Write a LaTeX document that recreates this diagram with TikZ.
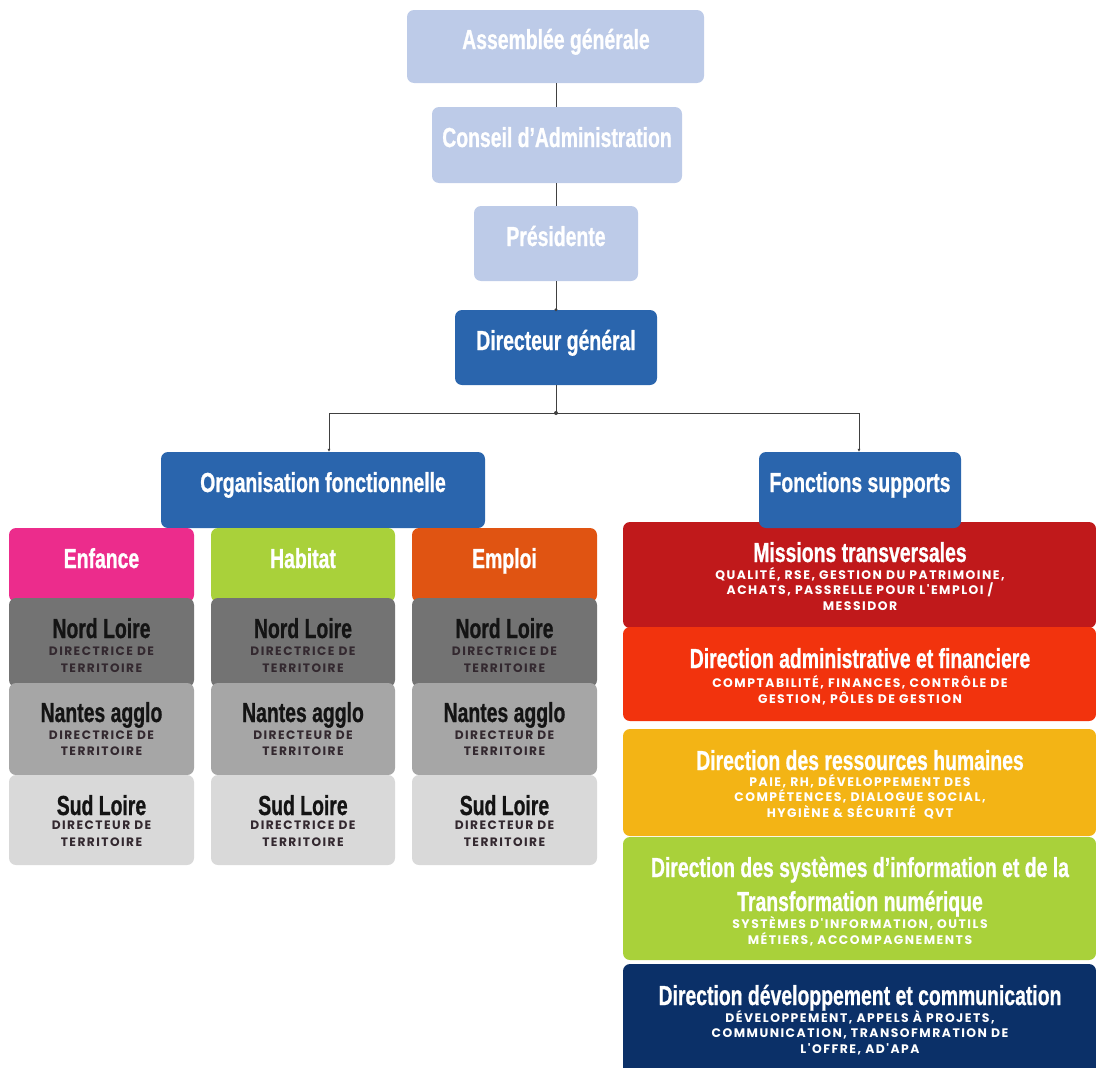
\documentclass[tikz,border=0pt]{standalone}
\usepackage{fontspec}
\setmainfont{Liberation Sans}
\newfontfamily\headf[FakeStretch=0.705, FakeBold=0.8]{Liberation Sans}
\newfontfamily\subf[LetterSpace=12]{Poppins}
\usetikzlibrary{arrows.meta}

\definecolor{paleblue}{HTML}{BDCBE8}
\definecolor{midblue}{HTML}{2A65AD}
\definecolor{pink}{HTML}{EC2C8C}
\definecolor{lime}{HTML}{A9D13A}
\definecolor{burnt}{HTML}{E05412}
\definecolor{grayA}{HTML}{737373}
\definecolor{grayB}{HTML}{A6A6A6}
\definecolor{grayC}{HTML}{D9D9D9}
\definecolor{crimson}{HTML}{C0191B}
\definecolor{redorange}{HTML}{F2330D}
\definecolor{amber}{HTML}{F3B415}
\definecolor{navy}{HTML}{0B3068}
\definecolor{linegray}{HTML}{404040}
\definecolor{darktext}{HTML}{141414}
\definecolor{subdark}{HTML}{33282F}

\tikzset{
  box/.style={rounded corners=7pt, inner sep=0pt, draw=none},
  head/.style={anchor=base, inner sep=0pt, text=white,
    font=\headf\bfseries\fontsize{27.5}{34}\selectfont},
  darkhead/.style={head, text=darktext},
  % multi-line sub-captions: the base anchor sits on the last line
  sub/.style={anchor=base, inner sep=0pt, align=center, text=white,
    font=\subf\bfseries\fontsize{12.4}{15.5}\selectfont},
  darksub/.style={sub, text=subdark, font=\subf\bfseries\fontsize{12.2}{16.5}\selectfont},
  conn/.style={draw=linegray, line width=0.9pt},
  tip/.style={-{Latex[length=3pt,width=3pt]}},
}

\begin{document}
\begin{tikzpicture}[x={(1pt,0)}, y={(0,-1pt)}]
\useasboundingbox (0,0) rectangle (1096,1068);

% governance chain
\node[box, fill=paleblue, minimum width=297pt, minimum height=73pt] (ag) at (555.5,46.5) {};
\node[box, fill=paleblue, minimum width=250pt, minimum height=76pt] (ca) at (557,145) {};
\node[box, fill=paleblue, minimum width=164pt, minimum height=75pt] (pr) at (556,243.5) {};
\node[box, fill=midblue, minimum width=202pt, minimum height=75pt] (dg) at (556,347.5) {};
\node[head] (agt) at (556,49) {Assemblée générale};
\node[head] (cat) at (557,147) {Conseil d’Administration};
\node[head] (prt) at (556,246) {Présidente};
\node[head] (dgt) at (556,350) {Directeur général};

% right-hand support departments
\node[box, fill=crimson, minimum width=473pt, minimum height=106pt] (mt) at (859.5,575) {};
\node[box, fill=redorange, minimum width=473pt, minimum height=94pt] (daf) at (859.5,674) {};
\node[box, fill=amber, minimum width=473pt, minimum height=107pt] (drh) at (859.5,782.5) {};
\node[box, fill=lime, minimum width=473pt, minimum height=123pt] (dsi) at (859.5,898.5) {};
\node[box, fill=navy, minimum width=473pt, minimum height=110pt] (dc) at (859.5,1019) {};

\node[head] (mtt) at (860,562) {Missions transversales};
\node[sub] (mts) at (860,610) {QUALITÉ, RSE, GESTION DU PATRIMOINE,\\ACHATS, PASSRELLE POUR L'EMPLOI /\\MESSIDOR};
\node[head] (daft) at (860,668) {Direction administrative et financiere};
\node[sub] (dafs) at (860,703) {COMPTABILITÉ, FINANCES, CONTRÔLE DE\\GESTION, PÔLES DE GESTION};
\node[head] (drht) at (860,770) {Direction des ressources humaines};
\node[sub] (drhs) at (860,817) {PAIE, RH, DÉVELOPPEMENT DES\\COMPÉTENCES, DIALOGUE SOCIAL,\\HYGIÈNE \& SÉCURITÉ\ \ QVT};
\node[head] (dsit) at (860,877) {Direction des systèmes d’information et de la};
\node[head] (dsit2) at (860,911) {Transformation numérique};
\node[sub] (dsis) at (860,944) {SYSTÈMES D'INFORMATION, OUTILS\\MÉTIERS, ACCOMPAGNEMENTS};
\node[head] (dct) at (860,1005) {Direction développement et communication};
\node[sub] (dcs) at (860,1053) {DÉVELOPPEMENT, APPELS À PROJETS,\\COMMUNICATION, TRANSOFMRATION DE\\L'OFFRE, AD'APA};

% branch heads
\node[box, fill=midblue, minimum width=324pt, minimum height=76pt] (org) at (323,490) {};
\node[box, fill=midblue, minimum width=202pt, minimum height=76pt] (fs) at (860,490) {};
\node[head] (orgt) at (323,492) {Organisation fonctionnelle};
\node[head] (fst) at (860,492) {Fonctions supports};

% territorial columns
\node[box, fill=pink, minimum width=185pt, minimum height=74pt] (enf) at (101.5,565) {};
\node[box, fill=grayA, minimum width=185pt, minimum height=89pt] (enf1) at (101.5,642.5) {};
\node[box, fill=grayB, minimum width=185pt, minimum height=92pt] (enf2) at (101.5,729) {};
\node[box, fill=grayC, minimum width=185pt, minimum height=90pt] (enf3) at (101.5,820) {};

\node[box, fill=lime, minimum width=184pt, minimum height=74pt] (hab) at (303,565) {};
\node[box, fill=grayA, minimum width=184pt, minimum height=89pt] (hab1) at (303,642.5) {};
\node[box, fill=grayB, minimum width=184pt, minimum height=92pt] (hab2) at (303,729) {};
\node[box, fill=grayC, minimum width=184pt, minimum height=90pt] (hab3) at (303,820) {};

\node[box, fill=burnt, minimum width=185pt, minimum height=74pt] (emp) at (504.5,565) {};
\node[box, fill=grayA, minimum width=185pt, minimum height=89pt] (emp1) at (504.5,642.5) {};
\node[box, fill=grayB, minimum width=185pt, minimum height=92pt] (emp2) at (504.5,729) {};
\node[box, fill=grayC, minimum width=185pt, minimum height=90pt] (emp3) at (504.5,820) {};

\node[head] (enft) at (101.5,568) {Enfance};
\node[head] (habt) at (303,568) {Habitat};
\node[head] (empt) at (504.5,568) {Emploi};

\node[darkhead] (enf1t) at (101.5,638) {Nord Loire};
\node[darksub] (enf1s) at (101.5,672) {DIRECTRICE DE\\TERRITOIRE};
\node[darkhead] (enf2t) at (101.5,722) {Nantes agglo};
\node[darksub] (enf2s) at (101.5,755.5) {DIRECTRICE DE\\TERRITOIRE};
\node[darkhead] (enf3t) at (101.5,815) {Sud Loire};
\node[darksub] (enf3s) at (101.5,846) {DIRECTEUR DE\\TERRITOIRE};

\node[darkhead] (hab1t) at (303,638) {Nord Loire};
\node[darksub] (hab1s) at (303,672) {DIRECTRICE DE\\TERRITOIRE};
\node[darkhead] (hab2t) at (303,722) {Nantes agglo};
\node[darksub] (hab2s) at (303,755.5) {DIRECTEUR DE\\TERRITOIRE};
\node[darkhead] (hab3t) at (303,815) {Sud Loire};
\node[darksub] (hab3s) at (303,846) {DIRECTRICE DE\\TERRITOIRE};

\node[darkhead] (emp1t) at (504.5,638) {Nord Loire};
\node[darksub] (emp1s) at (504.5,672) {DIRECTRICE DE\\TERRITOIRE};
\node[darkhead] (emp2t) at (504.5,722) {Nantes agglo};
\node[darksub] (emp2s) at (504.5,755.5) {DIRECTEUR DE\\TERRITOIRE};
\node[darkhead] (emp3t) at (504.5,815) {Sud Loire};
\node[darksub] (emp3s) at (504.5,846) {DIRECTEUR DE\\TERRITOIRE};

% connectors
\coordinate (j) at (556,413);
\coordinate (jl) at (329,413);
\coordinate (jr) at (859,413);
\draw[conn] (ag.south -| j) -- (ca.north -| j);
\draw[conn] (ca.south -| j) -- (pr.north -| j);
\draw[conn] (pr.south -| j) -- (dg.north -| j);
\draw[conn] (dg.south -| j) -- (j);
\draw[conn, tip] (j) -- (jl) -- (jl |- org.north);
\draw[conn, tip] (j) -- (jr) -- (jr |- fs.north);
\fill[linegray] (j) circle (2pt);
\fill[linegray] (dg.north -| j) circle (1.6pt);
\end{tikzpicture}
\end{document}
